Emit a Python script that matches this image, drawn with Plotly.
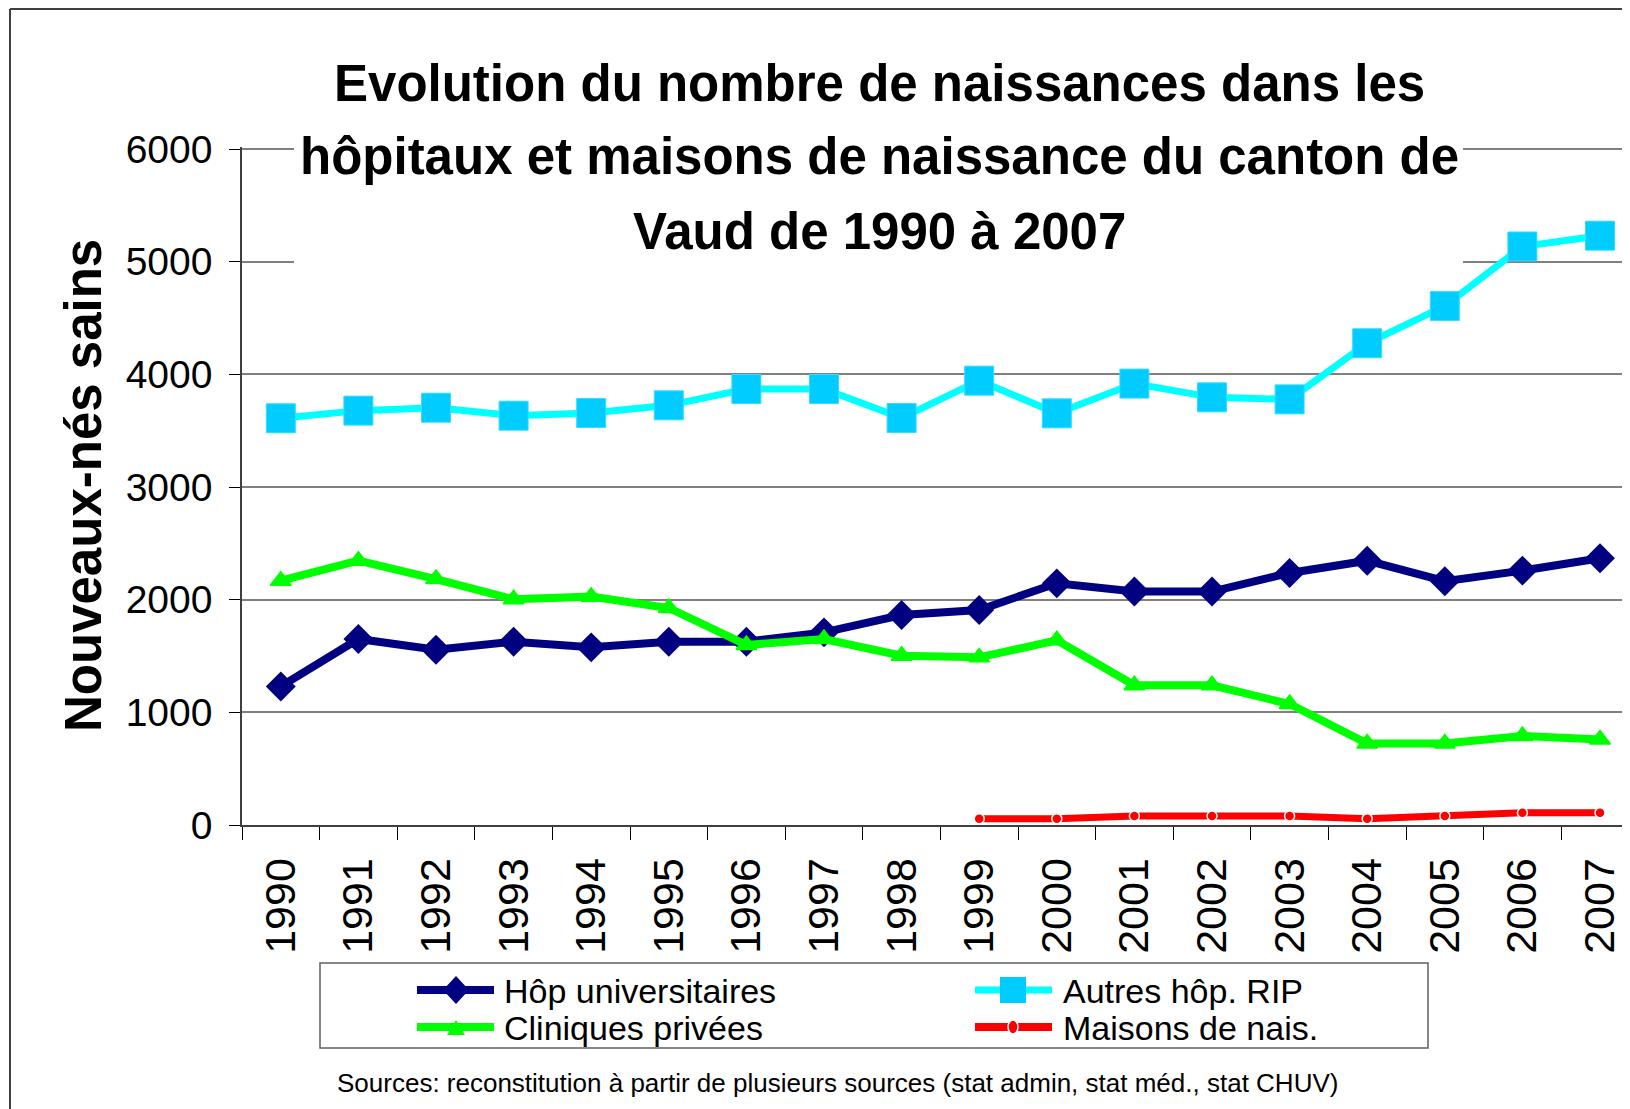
import plotly.graph_objects as go

# ---------------- data ----------------
years = ["1990", "1991", "1992", "1993", "1994", "1995", "1996", "1997", "1998",
         "1999", "2000", "2001", "2002", "2003", "2004", "2005", "2006", "2007"]
hop_univ = [1230, 1651, 1556, 1627, 1577, 1627, 1627, 1710, 1864,
            1909, 2145, 2072, 2072, 2237, 2346, 2164, 2258, 2368]
autres_rip = [3610, 3678, 3704, 3633, 3657, 3725, 3870, 3870, 3612,
              3944, 3654, 3918, 3796, 3778, 4276, 4606, 5135, 5231]
cliniques = [2169, 2346, 2183, 2003, 2027, 1926, 1598, 1651, 1503,
             1488, 1639, 1240, 1240, 1074, 723, 723, 790, 760]
maisons = [None, None, None, None, None, None, None, None, None,
           56, 56, 79, 79, 79, 56, 79, 109, 109]
y_ticks = [0, 1000, 2000, 3000, 4000, 5000, 6000]

series_names = ["Hôp universitaires", "Autres hôp. RIP", "Cliniques privées", "Maisons de nais."]
title_lines = ["Evolution du nombre de naissances dans les",
               "hôpitaux et maisons de naissance du canton de",
               "Vaud de 1990 à 2007"]
y_title = "Nouveaux-nés sains"
source_text = "Sources: reconstitution à partir de plusieurs sources (stat admin, stat méd., stat CHUV)"

# ---------------- styles ----------------
NAVY, CYAN_LINE, CYAN_FILL, GREEN, RED = "#000080", "#00FFFF", "#00CCFF", "#00FF00", "#FF0000"
FONT = "Liberation Sans, Arial, sans-serif"

# ---------------- geometry ----------------
OFF = 8                      # page body margin
W, H = 1622, 1101
L, R, T, B = 234, 0, 139, 284
PW, PH = W - L - R, H - T - B
CAT_PX = 77.6
Y_MAX = 6018                 # a hair above 6000 so the top gridline is drawn


def sx(X):
    """screen x (px) -> paper x"""
    return (X - OFF - L) / PW


def sy(Y):
    """screen y (px) -> paper y"""
    return (H - B - (Y - OFF)) / PH


fig = go.Figure()
fig.add_trace(go.Scatter(
    x=years, y=hop_univ, name=series_names[0], mode="lines+markers",
    line=dict(color=NAVY, width=8),
    marker=dict(symbol="diamond", size=23, color=NAVY)))
fig.add_trace(go.Scatter(
    x=years, y=autres_rip, name=series_names[1], mode="lines+markers",
    line=dict(color=CYAN_LINE, width=7),
    marker=dict(symbol="square", size=29, color=CYAN_FILL,
                line=dict(color="#33DDFF", width=1))))
fig.add_trace(go.Scatter(
    x=years, y=cliniques, name=series_names[2], mode="lines+markers",
    line=dict(color=GREEN, width=8),
    marker=dict(symbol="triangle-up", size=18, color=GREEN,
                line=dict(color=GREEN, width=1.5))))
fig.add_trace(go.Scatter(
    x=years, y=maisons, name=series_names[3], mode="lines+markers",
    line=dict(color=RED, width=7),
    marker=dict(symbol="circle", size=10, color=RED,
                line=dict(color="white", width=1.5))))


def poly(points, color, lw=0, lc=None):
    d = "M " + " L ".join(f"{sx(x):.5f},{sy(y):.5f}" for x, y in points) + " Z"
    return dict(type="path", xref="paper", yref="paper", path=d, fillcolor=color,
                line=dict(width=lw, color=lc or color), layer="above")


shapes = [
    # title background box (hides gridlines behind the title)
    dict(type="rect", xref="paper", yref="paper", x0=sx(294), x1=sx(1463),
         y0=sy(268), y1=sy(20), fillcolor="white", line=dict(width=0), layer="above"),
    # outer frame (top and left edges visible)
    dict(type="line", xref="paper", yref="paper", x0=sx(10), x1=sx(1640),
         y0=sy(9), y1=sy(9), line=dict(color="#404040", width=2)),
    dict(type="line", xref="paper", yref="paper", x0=sx(10), x1=sx(10),
         y0=sy(9), y1=sy(1115), line=dict(color="#404040", width=2)),
    # legend box
    dict(type="rect", xref="paper", yref="paper", x0=sx(320), x1=sx(1428),
         y0=sy(1048), y1=sy(963), fillcolor="rgba(0,0,0,0)",
         line=dict(color="#606060", width=1.5)),
]

# ---------------- legend (keyed box under the axis) ----------------
leg_rows = [990, 1027]
leg_cols = [(417, 494, 456, 502), (975, 1052, 1013, 1061)]  # line x0, x1, marker x, text x
leg_specs = [  # (name, col, row, line colour, width)
    (series_names[0], 0, 0, NAVY, 8),
    (series_names[1], 1, 0, CYAN_LINE, 7),
    (series_names[2], 0, 1, GREEN, 8),
    (series_names[3], 1, 1, RED, 8),
]
annotations = []
for name, c, r, col, lw in leg_specs:
    x0, x1, mx, tx = leg_cols[c]
    yy = leg_rows[r]
    shapes.append(dict(type="line", xref="paper", yref="paper", x0=sx(x0), x1=sx(x1),
                       y0=sy(yy), y1=sy(yy), line=dict(color=col, width=lw), layer="above"))
    annotations.append(dict(text=name, xref="paper", yref="paper", x=sx(tx), y=sy(yy + 1),
                            xanchor="left", yanchor="middle", showarrow=False,
                            font=dict(family=FONT, size=34, color="black")))
# legend marker glyphs
mx, yy = leg_cols[0][2], leg_rows[0]
shapes.append(poly([(mx - 13, yy), (mx, yy - 14), (mx + 13, yy), (mx, yy + 14)], NAVY))
mx, yy = leg_cols[1][2], leg_rows[0]
shapes.append(poly([(mx - 13, yy - 13), (mx + 13, yy - 13), (mx + 13, yy + 13), (mx - 13, yy + 13)],
                   CYAN_FILL))
mx, yy = leg_cols[0][2], leg_rows[1]
shapes.append(poly([(mx - 9, yy + 8), (mx + 9, yy + 8), (mx, yy - 7)], GREEN))
mx, yy = leg_cols[1][2], leg_rows[1]
shapes.append(dict(type="circle", xref="paper", yref="paper", x0=sx(mx - 5), x1=sx(mx + 5),
                   y0=sy(yy - 7), y1=sy(yy + 7), fillcolor=RED,
                   line=dict(color="white", width=1.5), layer="above"))

# ---------------- texts ----------------
for txt, yc in zip(title_lines, [83, 156, 231]):
    annotations.append(dict(
        text=txt, xref="paper", yref="paper", x=sx(879), y=sy(yc),
        xanchor="center", yanchor="middle", showarrow=False,
        font=dict(family=FONT, size=51, color="black", weight="bold")))
annotations.append(dict(
    text=y_title, xref="paper", yref="paper", x=sx(83), y=sy(486),
    xanchor="center", yanchor="middle", showarrow=False, textangle=-90,
    font=dict(family=FONT, size=51, color="black", weight="bold")))
annotations.append(dict(
    text=source_text, xref="paper", yref="paper", x=sx(837), y=sy(1083),
    xanchor="center", yanchor="middle", showarrow=False,
    font=dict(family=FONT, size=26, color="black")))

fig.update_layout(
    width=W, height=H,
    margin=dict(l=L, r=R, t=T, b=B, pad=0),
    paper_bgcolor="white", plot_bgcolor="white",
    font=dict(family=FONT, color="black"),
    showlegend=False,
    shapes=shapes,
    annotations=annotations,
    xaxis=dict(type="category", range=[-0.5, -0.5 + PW / CAT_PX],
               tickson="boundaries", ticks="outside", ticklen=13, tickcolor="black",
               tickwidth=1, tickangle=-90, tickfont=dict(family=FONT, size=43),
               showgrid=False, showline=True, linecolor="#404040", linewidth=2,
               ticklabelstandoff=14, fixedrange=True),
    yaxis=dict(range=[0, Y_MAX], tickvals=y_ticks, ticks="outside", ticklen=11,
               tickcolor="black", tickwidth=1, tickfont=dict(family=FONT, size=39),
               showgrid=True, gridcolor="#808080", gridwidth=1.5,
               zeroline=False, showline=True, linecolor="#404040", linewidth=1.5,
               ticklabelstandoff=9, fixedrange=True),
)

fig.write_html("out.html")
